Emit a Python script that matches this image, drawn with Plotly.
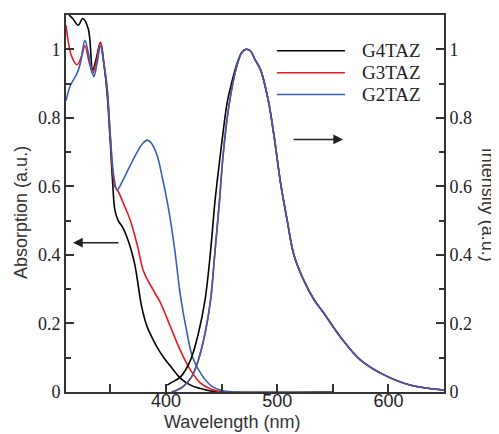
import plotly.graph_objects as go

# absorption spectra (left axis)
abs_g4_x = [310, 313, 316, 321, 325, 330, 334, 337, 341, 344, 347, 350, 352, 354, 357, 361, 365, 369,
            372, 375, 378, 383, 388, 392, 398, 404, 413, 422, 431, 440, 450, 550]
abs_g4_y = [1.13, 1.10, 1.09, 1.07, 1.09, 1.06, 0.94, 0.97, 1.02, 0.96, 0.87, 0.72, 0.61, 0.53, 0.50, 0.48,
            0.45, 0.41, 0.37, 0.31, 0.25, 0.19, 0.155, 0.13, 0.10, 0.075, 0.04, 0.02, 0.01, 0.003, 0.0, 0.0]

abs_g3_x = [310, 315, 320, 324, 327, 331, 334, 337, 341, 344, 347, 350, 352, 354, 357, 363, 368, 374,
            380, 388, 395, 404, 413, 422, 431, 440, 450, 550]
abs_g3_y = [1.07, 0.98, 0.955, 0.98, 1.01, 0.96, 0.93, 0.96, 1.02, 0.96, 0.88, 0.74, 0.64, 0.60, 0.585,
            0.54, 0.50, 0.43, 0.35, 0.30, 0.26, 0.19, 0.12, 0.064, 0.026, 0.009, 0.0, 0.0]

abs_g2_x = [310, 314, 320, 323, 327, 330, 333, 335, 338, 341, 344, 347, 350, 353, 356, 360, 365, 374,
            379, 383, 387, 392, 397, 401, 404, 408, 413, 419, 424, 432, 441, 450, 460, 550]
abs_g2_y = [0.85, 0.895, 0.93, 0.96, 1.026, 0.99, 0.94, 0.92, 0.96, 1.01, 0.96, 0.89, 0.74, 0.63, 0.59,
            0.61, 0.643, 0.70, 0.725, 0.735, 0.725, 0.69, 0.62, 0.556, 0.50, 0.41, 0.28, 0.17, 0.10,
            0.05, 0.017, 0.004, 0.0, 0.0]

# emission spectra (right axis)
em_g4_x = [401, 404, 413, 422, 429, 435, 440, 444, 448, 451, 455, 460, 464, 468, 472, 476, 480, 485,
           492, 497, 503, 509, 515, 524, 533, 542, 557, 575, 596, 620, 650]
em_g4_y = [0.02, 0.026, 0.044, 0.093, 0.17, 0.267, 0.41, 0.556, 0.67, 0.75, 0.845, 0.915, 0.96, 0.99,
           1.0, 0.995, 0.97, 0.94, 0.85, 0.75, 0.61, 0.50, 0.40, 0.325, 0.27, 0.23, 0.16, 0.093, 0.05,
           0.02, 0.006]

em_g3_x = [405, 410, 415, 423, 429, 435, 440, 444, 448, 451, 455, 460, 464, 468, 472, 476, 480, 485,
           492, 497, 503, 509, 515, 524, 533, 542, 557, 575, 596, 620, 650]
em_g3_y = [0.0, 0.006, 0.015, 0.044, 0.093, 0.17, 0.267, 0.41, 0.556, 0.68, 0.80, 0.90, 0.955, 0.99,
           1.0, 0.995, 0.97, 0.94, 0.85, 0.75, 0.61, 0.50, 0.40, 0.325, 0.27, 0.23, 0.16, 0.093, 0.05,
           0.02, 0.006]

em_g2_x = em_g3_x
em_g2_y = em_g3_y

names = ["G4TAZ", "G3TAZ", "G2TAZ"]
colors = ["#000000", "#e8191f", "#3560b0"]

fig = go.Figure()

# absorption traces
for xs, ys, c in [(abs_g4_x, abs_g4_y, colors[0]), (abs_g3_x, abs_g3_y, colors[1]),
                  (abs_g2_x, abs_g2_y, colors[2])]:
    fig.add_trace(go.Scatter(x=xs, y=ys, mode="lines", line=dict(color=c, width=1.6, shape="spline"),
                             showlegend=False))

# emission traces on the right axis
for xs, ys, c in [(em_g4_x, em_g4_y, colors[0]), (em_g3_x, em_g3_y, colors[1]),
                  (em_g2_x, em_g2_y, colors[2])]:
    fig.add_trace(go.Scatter(x=xs, y=ys, mode="lines", line=dict(color=c, width=1.6, shape="spline"),
                             showlegend=False, yaxis="y2"))

axis_col = "#333333"
serif = "Liberation Serif"
sans = "Liberation Sans"

# page body has an 8px margin, so the figure is a bit smaller than the window
fig.update_layout(
    width=491, height=426,
    margin=dict(l=58, r=55, t=5, b=42),
    plot_bgcolor="white", paper_bgcolor="white",
    xaxis=dict(range=[310, 650], tickvals=[400, 500, 600], ticks="inside", ticklen=8,
               tickcolor=axis_col, tickwidth=1.5, showgrid=False, zeroline=False,
               showline=True, linecolor=axis_col, linewidth=2, mirror=True,
               ticklabelstandoff=-9,
               tickfont=dict(family=sans, size=18, color="#222"),
               minor=dict(tickvals=[350, 450, 550], ticks="inside", ticklen=8, tickcolor=axis_col)),
    yaxis=dict(range=[0, 1.1], tickvals=[0, 0.2, 0.4, 0.6, 0.8, 1], ticktext=["0", "0.2", "0.4", "0.6", "0.8", "1"],
               ticks="inside", ticklen=8, tickcolor=axis_col, tickwidth=1.5,
               showgrid=False, zeroline=False, showline=True, linecolor=axis_col, linewidth=2,
               tickfont=dict(family=serif, size=18, color="#222"),
               minor=dict(dtick=0.1, ticks="inside", ticklen=5, tickcolor=axis_col)),
    yaxis2=dict(range=[0, 1.1], overlaying="y", side="right",
                tickvals=[0, 0.2, 0.4, 0.6, 0.8, 1], ticktext=["0", "0.2", "0.4", "0.6", "0.8", "1"],
                ticks="inside", ticklen=8, tickcolor=axis_col, tickwidth=1.5,
                showgrid=False, zeroline=False, showline=True, linecolor=axis_col, linewidth=2,
                tickfont=dict(family=serif, size=18, color="#222"),
                minor=dict(dtick=0.1, ticks="inside", ticklen=5, tickcolor=axis_col)),
    showlegend=False,
)

# manual legend with long line samples
for i, (n, c) in enumerate(zip(names, colors)):
    yy = 0.905 - i * 0.058
    fig.add_shape(type="line", xref="paper", yref="paper", x0=0.558, x1=0.738, y0=yy, y1=yy,
                  line=dict(color=c, width=1.6))
    fig.add_annotation(xref="paper", yref="paper", x=0.778, y=yy, text=n, showarrow=False,
                       xanchor="left", yanchor="middle", font=dict(family=serif, size=19, color="#222"))

# axis titles
fig.add_annotation(xref="paper", yref="paper", x=0.439, y=-0.079, text="Wavelength (nm)", showarrow=False,
                   xanchor="center", yanchor="middle", font=dict(family=sans, size=18, color="#333"))
fig.add_annotation(xref="paper", yref="paper", x=-0.119, y=0.475, text="Absorption (a.u.)", showarrow=False,
                   textangle=-90, xanchor="center", yanchor="middle", font=dict(family=sans, size=18, color="#333"))
fig.add_annotation(xref="paper", yref="paper", x=1.117, y=0.496, text="Intensity (a.u.)", showarrow=False,
                   textangle=90, xanchor="center", yanchor="middle", font=dict(family=sans, size=18, color="#333"))

# arrows pointing to the relevant axis
fig.add_annotation(xref="paper", yref="paper", x=0.0185, y=0.396, ax=47, ay=0, text="", showarrow=True,
                   arrowhead=2, arrowsize=1.3, arrowwidth=1.5, arrowcolor="#222")
fig.add_annotation(xref="paper", yref="paper", x=0.733, y=0.670, ax=-51, ay=0, text="", showarrow=True,
                   arrowhead=2, arrowsize=1.3, arrowwidth=1.5, arrowcolor="#222")

fig.write_html("out.html")
